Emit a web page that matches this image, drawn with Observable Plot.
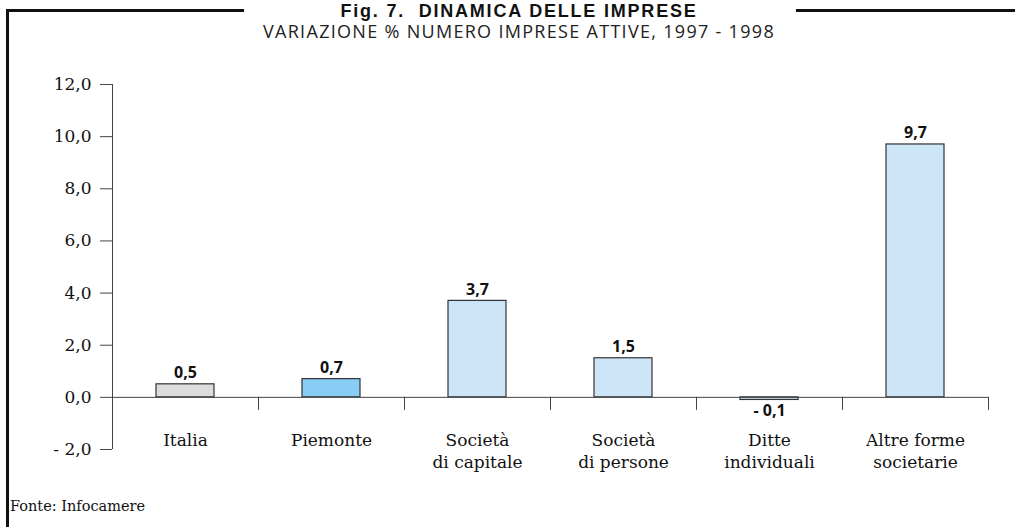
<!DOCTYPE html>
<html>
<head>
<meta charset="utf-8">
<script src="https://cdn.jsdelivr.net/npm/d3@7"></script>
<script src="https://cdn.jsdelivr.net/npm/@observablehq/plot@0.6"></script>
<style>
  html, body { margin: 0; padding: 0; background: #fff; }
  #wrap { position: relative; width: 1015px; height: 527px; overflow: hidden; background: #fff; }
  .frame-left { position: absolute; left: 6px; top: 9px; width: 3px; height: 530px; background: #111; }
  .frame-top1 { position: absolute; left: 6px; top: 9px; width: 238px; height: 3px; background: #111; }
  .frame-top2 { position: absolute; left: 796px; top: 9px; width: 230px; height: 3px; background: #111; }
  #title { position: absolute; left: 0; width: 1038px; top: 0.5px; line-height: 20px; text-align: center;
    font-family: "Liberation Sans", sans-serif;
    font-weight: bold; font-size: 18px; letter-spacing: 1.8px; color: #111; white-space: pre; }
  #subtitle { position: absolute; left: 0; width: 1038px; top: 21px; line-height: 20px; text-align: center;
    font-family: "Open Sans", sans-serif; font-size: 18px; color: #222; letter-spacing: 1.3px; white-space: pre; }
  #chart { position: absolute; left: 0; top: 50px; }
  #caption { position: absolute; left: 10px; top: 497px; line-height: 18px; font-family: "DejaVu Serif", serif; font-size: 14.5px; color: #111; }
</style>
</head>
<body>
<div id="wrap">
  <div class="frame-left"></div>
  <div class="frame-top1"></div>
  <div class="frame-top2"></div>
  <div id="title">Fig. 7.  DINAMICA DELLE IMPRESE</div>
  <div id="subtitle">VARIAZIONE % NUMERO IMPRESE ATTIVE, 1997 - 1998</div>
  <div id="chart"></div>
  <div id="caption">Fonte: Infocamere</div>
</div>
<script>
const categories = ["Italia", "Piemonte", "Società\ndi capitale", "Società\ndi persone", "Ditte\nindividuali", "Altre forme\nsocietarie"];
const values = [0.5, 0.7, 3.7, 1.5, -0.1, 9.7];
const yTicks = [-2, 0, 2, 4, 6, 8, 10, 12];

const data = categories.map((c, i) => ({category: c, value: values[i]}));
const fmt = v => v.toFixed(1).replace(".", ",").replace("-", "- ");

const width = 1015, height = 440;
const marginLeft = 112, marginRight = 27, marginTop = 34, marginBottom = 41;
const step = (width - marginLeft - marginRight) / categories.length;
const axisColor = "#444";
const serif = "DejaVu Serif, serif";
const sans = "Open Sans, sans-serif";

const plot = Plot.plot({
  width, height, marginLeft, marginRight, marginTop, marginBottom,
  style: {fontFamily: serif, fontSize: "17px", color: "#111", background: "transparent"},
  x: {domain: categories, paddingInner: 0.6, paddingOuter: 0.3, axis: null},
  y: {domain: [-2, 12], axis: null},
  color: {domain: categories, range: ["#dcdcdc", "#88cdf4", "#cce6f8", "#cce6f8", "#cce6f8", "#cce6f8"]},
  marks: [
    Plot.axisY({ticks: yTicks, tickSize: 12, tickPadding: 9, tickFormat: fmt, label: null,
      stroke: axisColor, fontSize: 17, fontFamily: serif}),
    Plot.ruleX([categories[0]], {x: d => d, y1: -2, y2: 12, dx: -step / 2, stroke: axisColor}),
    Plot.barY(data, {x: "category", y: "value", fill: "category", stroke: "#333", strokeWidth: 1.2}),
    Plot.ruleY([0], {stroke: axisColor}),
    Plot.ruleX(categories, {x: d => d, y1: 0, y2: -0.5, dx: step / 2, stroke: axisColor}),
    Plot.text(data, {x: "category", y: "value", text: d => fmt(d.value),
      filter: d => d.value >= 0, lineAnchor: "bottom", dy: -6,
      fontFamily: sans, fontWeight: "bold", fontSize: 16, fill: "#111"}),
    Plot.text(data, {x: "category", y: "value", text: d => fmt(d.value),
      filter: d => d.value < 0, lineAnchor: "top", dy: 5,
      fontFamily: sans, fontWeight: "bold", fontSize: 16, fill: "#111"}),
    Plot.text(data, {x: "category", y: 0, text: "category", lineAnchor: "top", dy: 34,
      lineHeight: 1.25, fontSize: 17, fontFamily: serif, fill: "#111"})
  ]
});
plot.querySelectorAll("text").forEach(t => {
  if (t.getAttribute("font-weight") === "bold") t.style.letterSpacing = "1px";
});
document.getElementById("chart").appendChild(plot);
</script>
</body>
</html>
